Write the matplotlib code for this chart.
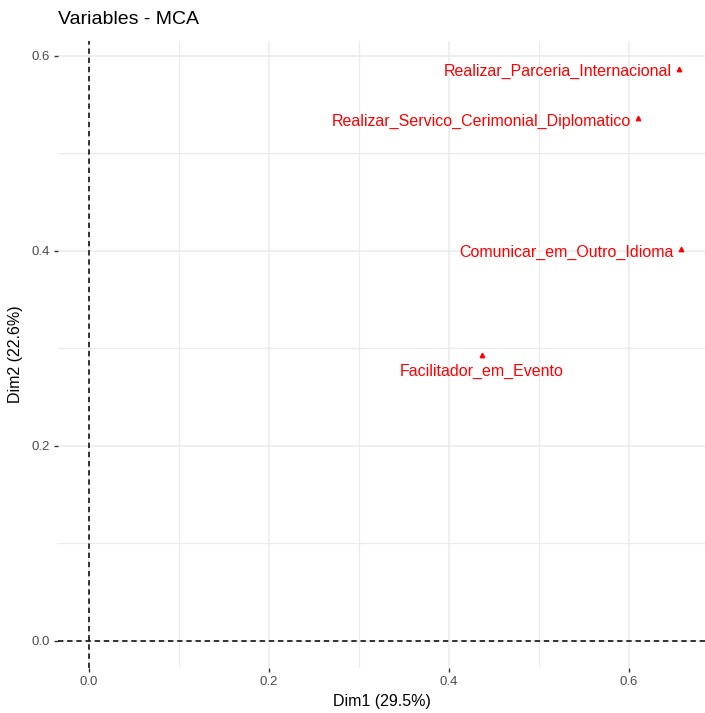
import matplotlib
matplotlib.use("Agg")
import matplotlib.pyplot as plt
import numpy as np

plt.rcParams['font.family'] = ['Liberation Sans', 'DejaVu Sans']

# Category coordinates on the first two MCA dimensions
categories = [
    "Realizar_Parceria_Internacional",
    "Realizar_Servico_Cerimonial_Diplomatico",
    "Comunicar_em_Outro_Idioma",
    "Facilitador_em_Evento",
]
dim1 = [0.656, 0.611, 0.658, 0.437]
dim2 = [0.586, 0.536, 0.402, 0.293]

# label offsets in points (ha, dx, dy)
label_pos = [
    ("right", -5, -1.5),
    ("right", -5, -2.5),
    ("right", -5, -2.5),
    ("center", 0, -12),
]

fig = plt.figure(figsize=(7.05, 7.13), dpi=100)
ax = fig.add_axes([0.0823, 0.0631, 0.9177, 0.8794])

ticks = [0.0, 0.2, 0.4, 0.6]
ax.set_xticks(ticks)
ax.set_yticks(ticks)
ax.set_xticks(np.arange(-0.1, 0.75, 0.1), minor=True)
ax.set_yticks(np.arange(-0.1, 0.75, 0.1), minor=True)
ax.set_xticklabels([f"{t:.1f}" for t in ticks])
ax.set_yticklabels([f"{t:.1f}" for t in ticks])

ax.grid(True, which="major", color="#ebebeb", linewidth=1.1)
ax.grid(True, which="minor", color="#ebebeb", linewidth=0.9)
ax.set_axisbelow(True)
for s in ax.spines.values():
    s.set_visible(False)
ax.tick_params(which="major", length=3, width=1, color="#333333",
               labelcolor="#4d4d4d", labelsize=9.5, pad=3)
ax.tick_params(which="minor", length=0)

ax.axhline(0, color="black", linestyle=(0, (3.5, 2.5)), linewidth=1.1)
ax.axvline(0, color="black", linestyle=(0, (3.5, 2.5)), linewidth=1.1)

ax.plot(dim1, dim2, linestyle="none", marker="^", markersize=3.2, color="red")
for name, x, y, (ha, dx, dy) in zip(categories, dim1, dim2, label_pos):
    ax.annotate(name, (x, y), xytext=(dx, dy), textcoords="offset points",
                ha=ha, va="center", color="red", fontsize=11.5)

ax.set_xlim(-0.034, 0.685)
ax.set_ylim(-0.028, 0.615)

ax.set_xlabel("Dim1 (29.5%)", fontsize=11.5, labelpad=4)
ax.set_ylabel("Dim2 (22.6%)", fontsize=11.5, labelpad=6)
fig.text(0.0823, 0.972, "Variables - MCA", fontsize=14, ha="left", va="center")

fig.savefig("out.png", dpi=100, facecolor="white")
